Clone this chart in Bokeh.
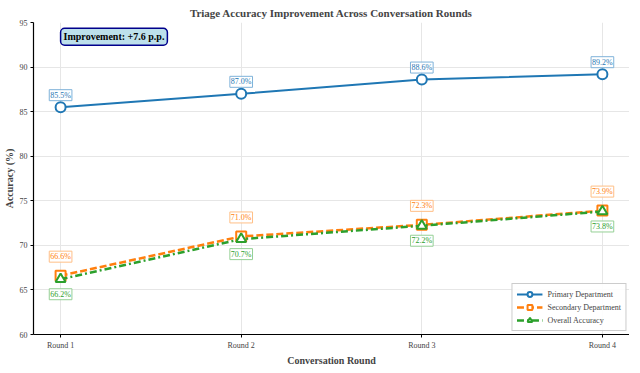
from bokeh.plotting import figure
from bokeh.models import ColumnDataSource, Label, Range1d, FixedTicker, Legend, LegendItem
from bokeh.core.properties import value
from bokeh.embed import file_html
from bokeh.resources import INLINE

rounds = ["Round 1", "Round 2", "Round 3", "Round 4"]
primary = [85.5, 87.0, 88.6, 89.2]
secondary = [66.6, 71.0, 72.3, 73.9]
overall = [66.2, 70.7, 72.2, 73.8]
improvement = 7.6
y_ticks = [60, 65, 70, 75, 80, 85, 90, 95]

FONT = "Liberation Serif"
BLUE, ORANGE, GREEN = "#1f77b4", "#ff7f0e", "#2ca02c"

x = list(range(len(rounds)))
src = ColumnDataSource(dict(
    x=x, p=primary, s=secondary, o=overall,
    pl=[f"{v:.1f}%" for v in primary],
    sl=[f"{v:.1f}%" for v in secondary],
    ol=[f"{v:.1f}%" for v in overall],
))

p = figure(frame_width=596, frame_height=312, output_backend="svg", toolbar_location=None,
           x_range=Range1d(-0.15, 3.15), y_range=Range1d(60, 95),
           min_border_left=0, min_border_right=0, min_border_top=0, min_border_bottom=0)
p.outline_line_color = None
p.background_fill_color = "white"

p.title.text = "Triage Accuracy Improvement Across Conversation Rounds"
p.title.align = "center"
p.title.text_font = FONT
p.title.text_font_size = "11px"
p.title.text_font_style = "bold"
p.title.standoff = 8

for ax in (p.xaxis[0], p.yaxis[0]):
    ax.axis_label_text_font = FONT
    ax.axis_label_text_font_size = "10px"
    ax.axis_label_text_font_style = "bold"
    ax.major_label_text_font = FONT
    ax.major_label_text_font_size = "8px"
    ax.axis_line_color = "black"
    ax.axis_line_width = 1.2
    ax.major_tick_line_color = "black"
    ax.major_tick_out = 3
    ax.major_tick_in = 0
    ax.minor_tick_line_color = None
    ax.axis_label_standoff = 2
    ax.major_label_standoff = 3

p.xaxis.axis_label = "Conversation Round"
p.yaxis.axis_label = "Accuracy (%)"
p.xaxis.ticker = FixedTicker(ticks=x)
p.xaxis.major_label_overrides = {i: r for i, r in enumerate(rounds)}
p.yaxis.ticker = FixedTicker(ticks=y_ticks)
p.xgrid.grid_line_color = "#e6e6e6"
p.ygrid.grid_line_color = "#e6e6e6"

lp = p.line("x", "p", source=src, color=BLUE, line_width=2)
mp = p.scatter("x", "p", source=src, marker="circle", size=10, fill_color="white",
               line_color=BLUE, line_width=2)
ls = p.line("x", "s", source=src, color=ORANGE, line_width=2.5, line_dash="7 3")
ms = p.scatter("x", "s", source=src, marker="square", size=10, fill_color="white",
               line_color=ORANGE, line_width=2)
lo = p.line("x", "o", source=src, color=GREEN, line_width=2.5, line_dash="7 3 2 3")
mo = p.scatter("x", "o", source=src, marker="triangle", size=10, fill_color="white",
               line_color=GREEN, line_width=2)

def labels(col, ycol, color, border, yoff):
    p.text(x="x", y=ycol, text=col, source=src, text_align="center",
           text_baseline="middle", y_offset=yoff, text_color=color,
           text_font=value(FONT), text_font_size="8px",
           background_fill_color="white", background_fill_alpha=0.8,
           border_line_color=border, border_line_width=1, padding=1)

labels("pl", "p", BLUE, "#7fb2d9", -12)
labels("sl", "s", ORANGE, "#ffbf86", -19)
labels("ol", "o", GREEN, "#95d095", 15)

imp = Label(x=0, y=93.4, text=f"Improvement: +{improvement} p.p.", text_font=FONT,
            text_font_size="10px", text_font_style="bold", text_color="black",
            text_baseline="middle", text_align="left",
            background_fill_color="#add8e6", background_fill_alpha=0.8,
            border_line_color="#00008b", border_line_width=1.5, padding=3,
            border_radius=4)
p.add_layout(imp)

legend = Legend(items=[
    LegendItem(label="Primary Department", renderers=[lp, mp]),
    LegendItem(label="Secondary Department", renderers=[ls, ms]),
    LegendItem(label="Overall Accuracy", renderers=[lo, mo]),
], location="bottom_right")
legend.label_text_font = FONT
legend.label_text_font_size = "8px"
legend.label_height = 10
legend.glyph_height = 12
legend.glyph_width = 26
legend.spacing = 1
legend.padding = 4
legend.margin = 3
legend.border_line_color = "#999999"
legend.border_line_width = 1
legend.background_fill_alpha = 0.9
p.add_layout(legend)

open("out.html", "w").write(file_html(p, INLINE))
